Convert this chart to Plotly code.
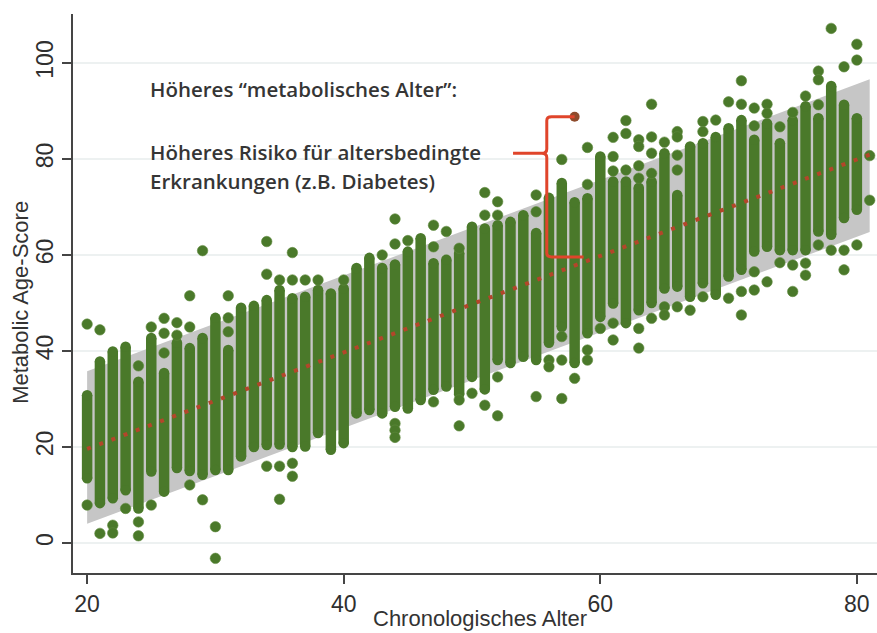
import plotly.graph_objects as go

# ---- data ----
ages = list(range(20, 81))
bar_lo = [13.5, 8.3, 9.3, 11.0, 7.2, 14.9, 10.7, 15.6, 15.0, 14.2,
          15.2, 15.2, 18.0, 20.0, 20.4, 20.5, 20.0, 20.1, 22.9, 19.4,
          20.8, 27.0, 27.7, 27.0, 28.4, 28.0, 29.8, 31.9, 32.6, 31.0,
          34.6, 32.0, 38.1, 37.5, 38.8, 38.1, 41.7, 45.0, 37.5, 43.7,
          47.1, 49.9, 45.8, 48.5, 50.0, 53.0, 53.4, 51.3, 54.1, 51.7,
          55.5, 56.9, 60.7, 61.7, 61.0, 61.0, 61.0, 64.9, 64.2, 67.7,
          69.4]
bar_hi = [30.8, 37.8, 39.9, 40.9, 33.6, 42.7, 35.4, 41.7, 40.6, 42.7,
          46.9, 40.2, 49.0, 49.4, 50.6, 52.7, 51.0, 51.3, 52.7, 52.0,
          53.0, 57.3, 59.4, 57.3, 58.0, 60.7, 63.5, 58.3, 59.0, 60.4,
          65.9, 65.5, 66.2, 66.9, 68.3, 64.6, 71.9, 75.0, 71.0, 71.8,
          80.5, 75.3, 75.3, 74.0, 75.3, 81.2, 72.5, 82.6, 83.3, 84.6,
          86.4, 88.1, 84.0, 87.4, 83.3, 88.1, 91.0, 88.5, 95.2, 91.3,
          88.5]

outlier_age = [20, 20, 21, 21, 22, 22, 23, 24, 24, 24, 25, 25, 26, 26, 26,
               27, 27, 28, 28, 28, 29, 29, 30, 30, 31, 31, 31, 34, 34, 34,
               35, 35, 35, 36, 36, 36, 36, 37, 38, 40, 43, 44, 44, 44, 44, 44,
               45, 47, 47, 47, 48, 49, 49, 49, 50, 51, 51, 51, 52, 52, 52, 52,
               55, 55, 55, 56, 56, 57, 57, 57, 57, 58, 59, 59, 59, 59, 60,
               61, 61, 61, 61, 61, 62, 62, 62, 63, 63, 63, 63, 63, 63,
               64, 64, 64, 64, 64, 65, 65, 65, 66, 66, 66, 66, 66, 67,
               68, 68, 68, 69, 70, 70, 71, 71, 71, 71, 72, 72, 72, 72,
               73, 73, 73, 74, 74, 75, 75, 75, 76, 76, 76, 77, 77, 77, 77,
               78, 78, 79, 79, 79, 80, 80, 80, 81, 81]
outlier_score = [7.9, 45.6, 2.0, 44.4, 3.7, 2.1, 7.2, 36.9, 4.4, 1.5, 45.0, 7.9,
                 46.8, 43.7, 39.6, 45.9, 43.3, 51.5, 45.0, 12.1, 60.9, 9.0,
                 3.4, -3.2, 51.5, 46.9, 44.0, 62.8, 56.0, 16.0, 54.8, 16.0, 9.1,
                 60.5, 54.8, 16.6, 13.9, 54.8, 54.8, 54.8, 60.0,
                 67.5, 62.3, 24.9, 23.5, 22.0, 63.0, 66.2, 61.7, 29.4, 64.9,
                 61.4, 29.8, 24.4, 31.2, 73.0, 68.3, 28.7, 71.1, 68.3, 34.6, 26.5,
                 72.5, 69.0, 30.5, 38.1, 36.7, 79.9, 43.0, 38.1, 30.1, 34.3,
                 82.4, 74.7, 40.2, 38.1, 44.7,
                 84.5, 80.5, 77.5, 45.8, 42.3, 88.0, 85.3, 77.7,
                 84.0, 82.6, 78.6, 76.0, 44.7, 40.6,
                 91.4, 84.6, 81.2, 77.0, 46.8, 83.5, 49.2, 47.5,
                 85.7, 84.6, 80.8, 77.7, 49.2, 48.5,
                 87.8, 85.7, 51.3, 88.1, 91.9, 51.0, 96.3, 91.4, 52.4, 47.5,
                 90.6, 86.9, 56.5, 52.7, 91.4, 89.5, 54.4, 86.7, 58.4,
                 89.7, 57.9, 52.4, 93.1, 58.3, 55.8, 98.3, 96.5, 91.3, 62.1,
                 107.2, 61.0, 99.2, 61.0, 56.9, 103.9, 100.6, 62.1, 80.7, 71.4]

fit_age = [20, 81]
fit_score = [19.6, 80.9]
band_age = [20, 81]
band_lower = [4.0, 64.8]
band_upper = [35.8, 96.6]

highlight_age = [58]
highlight_score = [88.8]

x_ticks = [20, 40, 60, 80]
y_ticks = [0, 20, 40, 60, 80, 100]

GREEN = "#4a792a"
AXIS = "#454545"

fig = go.Figure()

# prediction band
fig.add_trace(go.Scatter(x=band_age, y=band_lower, mode="lines",
                         line=dict(width=0, color="#c6c6c6"), hoverinfo="skip",
                         showlegend=False))
fig.add_trace(go.Scatter(x=band_age, y=band_upper, mode="lines", fill="tonexty",
                         fillcolor="#c6c6c6", line=dict(width=0, color="#c6c6c6"),
                         hoverinfo="skip", showlegend=False))

# dense columns of observations
bx, by = [], []
for a, lo, hi in zip(ages, bar_lo, bar_hi):
    bx += [a, a, None]
    by += [lo, hi, None]
fig.add_trace(go.Scatter(x=bx, y=by, mode="lines+markers",
                         line=dict(color=GREEN, width=10.5),
                         marker=dict(color=GREEN, size=10.5, line=dict(width=0)),
                         hoverinfo="skip", showlegend=False))

# isolated observations
fig.add_trace(go.Scatter(x=outlier_age, y=outlier_score, mode="markers",
                         marker=dict(color=GREEN, size=10.5,
                                     line=dict(color="#5f8a3e", width=0.6)),
                         showlegend=False))

# fitted line
fig.add_trace(go.Scatter(x=fit_age, y=fit_score, mode="lines",
                         line=dict(color="#b3462a", width=4, dash="4px,9px"),
                         showlegend=False))

# highlighted point at bracket end
fig.add_trace(go.Scatter(x=highlight_age, y=highlight_score, mode="markers",
                         marker=dict(color="#8e4b2c", size=10),
                         showlegend=False))

# curly bracket
fig.add_shape(type="path", xref="x", yref="y", layer="above",
              path=("M 58.0,88.8 L 56.2,88.8 Q 55.83,88.8 55.83,88.0 L 55.83,82.1 "
                    "Q 55.83,81.2 55.45,81.2 L 53.2,81.2 M 55.45,81.2 "
                    "Q 55.83,81.2 55.83,80.3 L 55.83,60.4 Q 55.83,59.6 56.2,59.6 L 58.7,59.6"),
              line=dict(color="#e0452b", width=3))

TXT = dict(family="Open Sans, Lato, sans-serif", size=20.5, color="#353535", weight=600)
fig.add_annotation(x=24.75, y=94.6, xref="x", yref="y", xanchor="left", yanchor="middle",
                   text="Höheres “metabolisches Alter”:", showarrow=False, font=TXT)
fig.add_annotation(x=24.75, y=81.4, xref="x", yref="y", xanchor="left", yanchor="middle",
                   text="Höheres Risiko für altersbedingte", showarrow=False, font=TXT)
fig.add_annotation(x=24.75, y=75.4, xref="x", yref="y", xanchor="left", yanchor="middle",
                   text="Erkrankungen (z.B. Diabetes)", showarrow=False, font=TXT)

TITLE = dict(family="Liberation Sans, Arial, sans-serif", size=22, color="#333333")
fig.add_annotation(x=-0.0647, y=0.485, xref="paper", yref="paper", textangle=-90,
                   text="Metabolic Age-Score", showarrow=False, font=TITLE,
                   xanchor="center", yanchor="middle")
fig.add_annotation(x=0.506, y=-0.1073, xref="paper", yref="paper",
                   text="Chronologisches Alter", showarrow=False, font=TITLE,
                   xanchor="center", yanchor="bottom")

TICK = dict(family="Liberation Sans, Arial, sans-serif", size=23, color="#2f2f2f")
fig.update_layout(
    width=877, height=633,
    margin=dict(l=73, r=0, t=14, b=60),
    paper_bgcolor="white", plot_bgcolor="white",
    xaxis=dict(range=[18.9, 81.57], tickvals=x_ticks, showgrid=False, zeroline=False,
               showline=True, linecolor=AXIS, linewidth=2, ticks="outside",
               ticklen=9, tickwidth=2, tickcolor=AXIS, tickfont=TICK,
               ticklabelstandoff=0),
    yaxis=dict(range=[-6.25, 110.2], tickvals=y_ticks, showgrid=True,
               gridcolor="#edf1f1", gridwidth=2, zeroline=False,
               showline=True, linecolor=AXIS, linewidth=2, ticks="outside",
               ticklen=9, tickwidth=2, tickcolor=AXIS, tickfont=TICK,
               tickangle=-90, ticklabelstandoff=0),
)

fig.write_html("out.html", config={"displayModeBar": False},
               post_script="document.body.style.margin='0';document.body.style.overflow='hidden';")
